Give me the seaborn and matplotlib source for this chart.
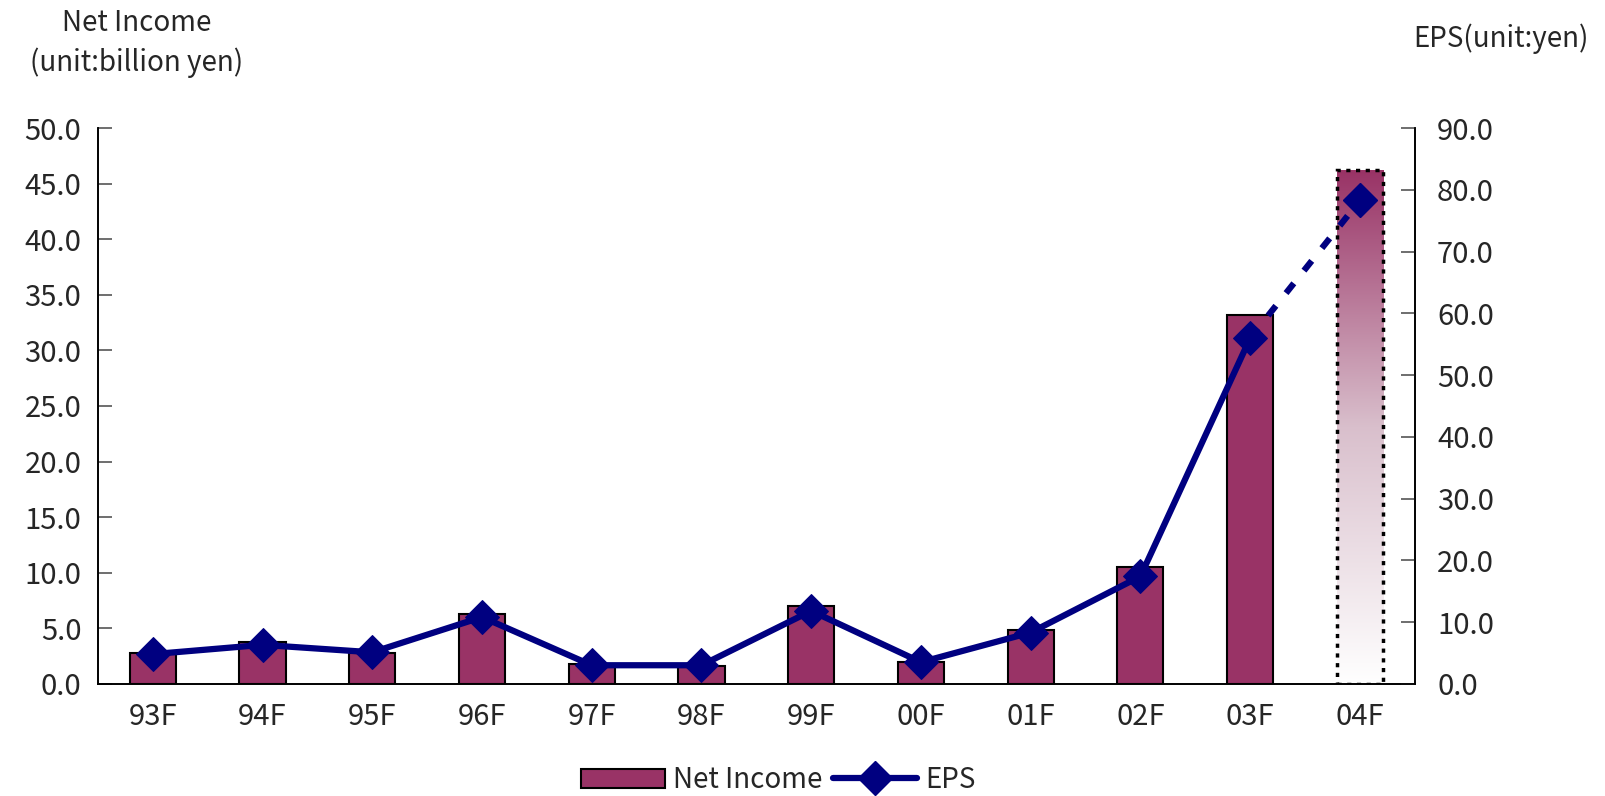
import numpy as np
import matplotlib.pyplot as plt
import seaborn as sns
import pandas as pd
from matplotlib.patches import Patch
from matplotlib.lines import Line2D
from matplotlib.colors import LinearSegmentedColormap

years = ['93F', '94F', '95F', '96F', '97F', '98F', '99F', '00F', '01F', '02F', '03F', '04F']
net_income = [2.8, 3.8, 2.8, 6.3, 1.8, 1.6, 7.0, 2.0, 4.8, 10.5, 33.2, 46.2]
eps = [4.8, 6.3, 5.1, 10.8, 3.0, 3.0, 11.8, 3.5, 8.3, 17.4, 56.0, 78.3]
n_actual = 11  # last year is a forecast

bar_color = '#993366'
line_color = '#000080'

sns.set_theme(style='white')
plt.rcParams['font.family'] = ['Noto Sans CJK JP', 'DejaVu Sans']

df = pd.DataFrame({'year': years, 'net_income': net_income, 'eps': eps})

fig = plt.figure(figsize=(16.05, 7.96), dpi=100)
ax = fig.add_axes([0.061, 0.141, 0.8205, 0.698])

sns.barplot(data=df, x='year', y='net_income', color=bar_color, saturation=1,
            width=0.42, edgecolor='black', linewidth=1.5, ax=ax)

# forecast bar: gradient fill with dotted outline
fc_bar = ax.patches[-1]
x0, w, h = fc_bar.get_x(), fc_bar.get_width(), fc_bar.get_height()
fc_bar.set_facecolor('none')
fc_bar.set_edgecolor('black')
fc_bar.set_linestyle((0, (1.2, 1.6)))
fc_bar.set_linewidth(2.5)
cmap = LinearSegmentedColormap.from_list('fade', ['#ffffff', '#d9bfcc', bar_color])
grad = np.linspace(0, 1, 256).reshape(-1, 1)
ax.imshow(grad, extent=(x0, x0 + w, 0, h), origin='lower', cmap=cmap,
          aspect='auto', zorder=fc_bar.get_zorder() - 0.1)

ax.set_xlim(-0.5, len(years) - 0.5)
ax.set_ylim(0, 50)
ax.set_yticks(np.arange(0, 50.1, 5))
ax.set_yticklabels([f'{v:.1f}' for v in np.arange(0, 50.1, 5)])
ax.set_xticks(range(len(years)))
ax.set_xticklabels(years)
ax.set_xticks(np.arange(-0.5, len(years), 1), minor=True)
ax.tick_params(axis='x', which='major', length=0, labelsize=21, pad=13)
ax.tick_params(axis='x', which='minor', direction='in', length=10, width=1.2, color='#555555')
ax.tick_params(axis='y', direction='in', length=10, width=1.2, color='#555555', labelsize=21, pad=12)
ax.set_xlabel('')
ax.set_ylabel('')

ax2 = ax.twinx()
sns.lineplot(x=years[:n_actual], y=eps[:n_actual], color=line_color, linewidth=4.5,
             marker='D', markersize=17, markeredgecolor=line_color, sort=False, ax=ax2)
ax2.plot(years[n_actual - 1:], eps[n_actual - 1:], color=line_color, linewidth=4.5,
         linestyle=(0, (2.0, 2.6)), dash_capstyle='butt')
ax2.plot(years[n_actual:], eps[n_actual:], color=line_color, linestyle='none',
         marker='D', markersize=17)
ax2.set_ylim(0, 90)
ax2.set_yticks(np.arange(0, 90.1, 10))
ax2.set_yticklabels([f'{v:.1f}' for v in np.arange(0, 90.1, 10)])
ax2.tick_params(axis='y', direction='in', length=10, width=1.2, color='#555555', labelsize=21, pad=16)
ax2.set_xlim(-0.5, len(years) - 0.5)

for a in (ax, ax2):
    a.spines['top'].set_visible(False)
    for s in ('left', 'right', 'bottom'):
        a.spines[s].set_color('black')
        a.spines[s].set_linewidth(1.2)

fig.text(0.085, 0.99, 'Net Income', ha='center', va='top', fontsize=20)
fig.text(0.085, 0.94, '(unit:billion yen)', ha='center', va='top', fontsize=20)
fig.text(0.935, 0.97, 'EPS(unit:yen)', ha='center', va='top', fontsize=20)

handles = [Patch(facecolor=bar_color, edgecolor='black', linewidth=1.5),
           Line2D([], [], color=line_color, linewidth=4.5, marker='D', markersize=17)]
fig.legend(handles, ['Net Income', 'EPS'], loc='center', bbox_to_anchor=(0.485, 0.02),
           ncol=2, frameon=False, fontsize=20, handlelength=3.0, handletextpad=0.3,
           columnspacing=0.4)

fig.savefig('out.png', dpi=100)
